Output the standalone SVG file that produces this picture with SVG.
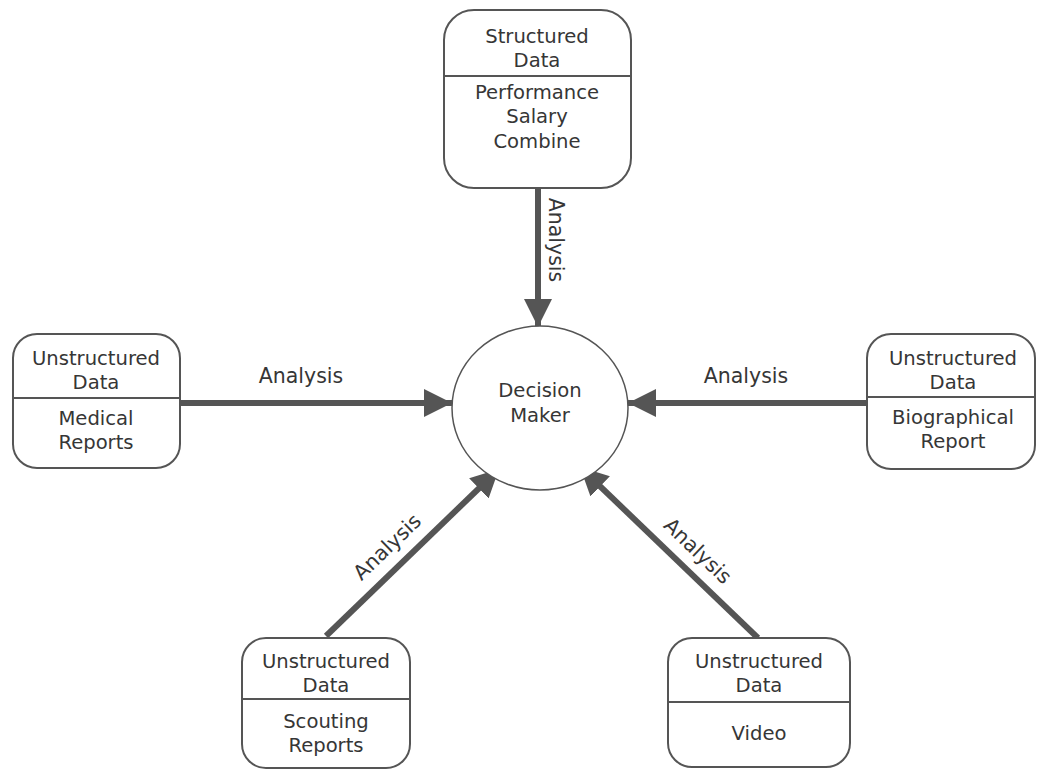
<svg xmlns="http://www.w3.org/2000/svg" width="1038" height="770" viewBox="0 0 1038 770">
  <style>
    .box { fill: #ffffff; stroke: #555555; stroke-width: 2; }
    .div { stroke: #555555; stroke-width: 2; }
    .txt { font-family: "DejaVu Sans", Verdana, sans-serif; font-size: 19.6px; fill: #363636; text-anchor: middle; }
    .lbl { font-family: "DejaVu Sans", Verdana, sans-serif; font-size: 20.5px; fill: #363636; text-anchor: middle; }
    .flow { stroke: #555555; stroke-width: 6; fill: none; marker-end: url(#head); }
  </style>
  <defs>
    <marker id="head" viewBox="0 0 10 10" refX="10" refY="5" markerUnits="userSpaceOnUse" markerWidth="28" markerHeight="30" orient="auto">
      <path d="M0,0 L10,5 L0,10 Z" fill="#555555"/>
    </marker>
  </defs>
  <rect width="1038" height="770" fill="#ffffff"/>

  <!-- connectors -->
  <g id="connectors">
    <line class="flow" x1="538" y1="188" x2="538" y2="327"/>
    <line class="flow" x1="180" y1="403" x2="452" y2="403"/>
    <line class="flow" x1="867" y1="403" x2="628" y2="403"/>
    <line class="flow" x1="326" y1="636" x2="499" y2="469"/>
    <line class="flow" x1="758" y1="638" x2="580" y2="467"/>
    <text class="lbl" transform="translate(549,240) rotate(90)">Analysis</text>
    <text class="lbl" x="301" y="383">Analysis</text>
    <text class="lbl" x="746" y="383">Analysis</text>
    <text class="lbl" transform="translate(392,552) rotate(-44)">Analysis</text>
    <text class="lbl" transform="translate(693,556) rotate(43.7)">Analysis</text>
  </g>

  <!-- structured data source -->
  <g id="structured">
    <rect class="box" x="444" y="10" width="187" height="178" rx="30" ry="30"/>
    <line class="div" x1="444" y1="76" x2="631" y2="76"/>
    <text class="txt" x="537" y="43">Structured</text>
    <text class="txt" x="537" y="67">Data</text>
    <text class="txt" x="537" y="99">Performance</text>
    <text class="txt" x="537" y="123">Salary</text>
    <text class="txt" x="537" y="148">Combine</text>
  </g>

  <!-- decision maker -->
  <g id="decision">
    <ellipse cx="540" cy="408" rx="88" ry="82" fill="#ffffff" stroke="#555555" stroke-width="1.5"/>
    <text class="txt" x="540" y="397">Decision</text>
    <text class="txt" x="540" y="422">Maker</text>
  </g>

  <!-- medical reports -->
  <g id="medical">
    <rect class="box" x="13" y="334" width="167" height="134" rx="24" ry="24"/>
    <line class="div" x1="13" y1="398" x2="180" y2="398"/>
    <text class="txt" x="96" y="365">Unstructured</text>
    <text class="txt" x="96" y="389">Data</text>
    <text class="txt" x="96" y="425">Medical</text>
    <text class="txt" x="96" y="449">Reports</text>
  </g>

  <!-- biographical report -->
  <g id="biographical">
    <rect class="box" x="867" y="334" width="168" height="135" rx="24" ry="24"/>
    <line class="div" x1="867" y1="397" x2="1035" y2="397"/>
    <text class="txt" x="953" y="365">Unstructured</text>
    <text class="txt" x="953" y="389">Data</text>
    <text class="txt" x="953" y="424">Biographical</text>
    <text class="txt" x="953" y="448">Report</text>
  </g>

  <!-- scouting reports -->
  <g id="scouting">
    <rect class="box" x="242" y="638" width="168" height="130" rx="24" ry="24"/>
    <line class="div" x1="242" y1="699" x2="410" y2="699"/>
    <text class="txt" x="326" y="668">Unstructured</text>
    <text class="txt" x="326" y="692">Data</text>
    <text class="txt" x="326" y="728">Scouting</text>
    <text class="txt" x="326" y="752">Reports</text>
  </g>

  <!-- video -->
  <g id="video">
    <rect class="box" x="668" y="638" width="182" height="129" rx="24" ry="24"/>
    <line class="div" x1="668" y1="702" x2="850" y2="702"/>
    <text class="txt" x="759" y="668">Unstructured</text>
    <text class="txt" x="759" y="692">Data</text>
    <text class="txt" x="759" y="740">Video</text>
  </g>
</svg>
